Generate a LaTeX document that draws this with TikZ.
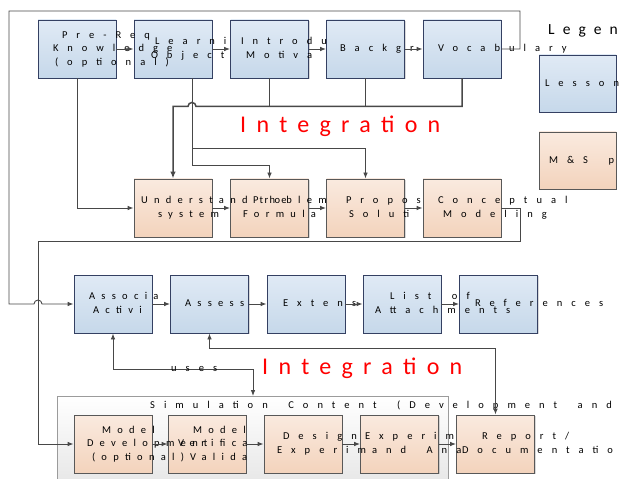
\documentclass[tikz,border=0pt]{standalone}
\usepackage{fontspec}
\setmainfont{Carlito}
\newfontfamily\widefam[LetterSpace=86, WordSpace=1.8]{Carlito}
\newfontfamily\tightfam[LetterSpace=60, WordSpace=1.4]{Carlito}
\newfontfamily\integfam[LetterSpace=43]{Carlito}
\newfontfamily\legendfam[LetterSpace=52]{Carlito}
\usetikzlibrary{arrows.meta, positioning, calc, shadows}

\definecolor{lessontop}{RGB}{224,234,245}
\definecolor{lessonbot}{RGB}{198,216,234}
\definecolor{lessonline}{RGB}{52,64,98}
\definecolor{mstop}{RGB}{250,234,223}
\definecolor{msbot}{RGB}{243,211,188}
\definecolor{msline}{RGB}{88,88,88}
\definecolor{wire}{RGB}{72,72,72}
\definecolor{simline}{RGB}{155,155,155}

\newcommand\wideTxt{\widefam\fontsize{10.5bp}{13.5bp}\selectfont}
\newcommand\tightTxt{\tightfam\fontsize{10.5bp}{13.5bp}\selectfont}
\newcommand\txtline[2]{\makebox[0pt][l]{\hspace*{#1bp}\strut#2}}

\tikzset{
  wtip/.tip={Latex[length=6bp, width=4.6bp]},
  basebox/.style={line width=0.9bp, minimum width=78bp, minimum height=58bp,
    inner sep=0pt, align=center,
    drop shadow={shadow xshift=1.4bp, shadow yshift=-1.4bp, fill=black, opacity=0.15}},
  lessonbox/.style={basebox, draw=lessonline, top color=lessontop, bottom color=lessonbot},
  msbox/.style={basebox, draw=msline, top color=mstop, bottom color=msbot},
  conn/.style={draw=wire, line width=0.9bp, -wtip},
  conn2/.style={draw=wire, line width=0.9bp, wtip-wtip},
  bus/.style={draw=wire, line width=1.5bp},
  integ/.style={text=red, inner sep=0pt, anchor=base west,
    font=\integfam\fontsize{24bp}{28bp}\selectfont},
}

\begin{document}
\begin{tikzpicture}[x=1bp, y=-1bp, font=\wideTxt]
    \useasboundingbox (0,0) rectangle (621,479);

    % simulation content frame
    \fill[top color=white, bottom color=black!9] (57,396) rectangle (448,479);
    \draw[simline, line width=1bp] (57,479) |- (448,396) -- (448,479);
    \node[anchor=base west, inner sep=0pt] (simlbl) at (150,408) {Simulation Content (Development and};
    \coordinate (simtop) at (253,396);

    % lesson row
    \foreach \nm/\cx/\txt in {
        voc/462/{\txtline{-24}{Vocabulary}},
        backgr/365.5/{\txtline{-25.5}{Backgr}},
        intro/269.5/{\txtline{-28.5}{Introdu}\\\txtline{-23.5}{Motiva}},
        learn/173/{\txtline{-18}{Learni}\\\txtline{-22}{Object}},
        preq/77/{\txtline{-15}{Pre-Req}\\\txtline{-24}{Knowledge}\\\txtline{-22}{(optional)}}}
    {
        \node[lessonbox] (\nm) at (\cx,49) {\txt};
    }

    % M&S row
    \foreach \nm/\cx/\fnt/\txt in {
        concept/462/\wideTxt/{\txtline{-24}{Conceptual}\\\txtline{-19}{Modeling}},
        propos/365.5/\wideTxt/{\txtline{-19.5}{Propos}\\\txtline{-16.5}{Soluti}},
        problem/269.5/\tightTxt/{\txtline{-16.5}{Problem}\\\txtline{-26.5}{Formula}},
        underst/173/\tightTxt/{\txtline{-32}{Understand the}\\\txtline{-15}{system}}}
    {
        \node[msbox, font=\fnt] (\nm) at (\cx,208) {\txt};
    }

    % activity row
    \foreach \nm/\cx/\fnt/\txt in {
        refs/498.5/\wideTxt/{\txtline{-23.5}{References}},
        attach/402/\wideTxt/{\txtline{-12}{List of}\\\txtline{-27}{Attachments}},
        exten/306/\wideTxt/{\txtline{-23}{Extens}},
        assess/209.5/\tightTxt/{\txtline{-24.5}{Assess}},
        assoc/113/\tightTxt/{\txtline{-24}{Associa}\\\txtline{-20}{Activi}}}
    {
        \node[lessonbox, font=\fnt] (\nm) at (\cx,304) {\txt};
    }

    % simulation row
    \foreach \nm/\cx/\fnt/\txt in {
        report/495.5/\wideTxt/{\txtline{-13.5}{Report/}\\\txtline{-33.5}{Documentatio}},
        experim/399.5/\wideTxt/{\txtline{-34.5}{Experim}\\\txtline{-27.5}{and Ana}},
        design/303/\wideTxt/{\txtline{-20}{Design}\\\txtline{-26}{Experim}},
        modver/207/\tightTxt/{\txtline{-14}{Model}\\\txtline{-29}{Verifica}\\\txtline{-17}{Valida}},
        moddev/113/\tightTxt/{\txtline{-11}{Model}\\\txtline{-26}{Development}\\\txtline{-21}{(optional)}}}
    {
        \node[msbox, font=\fnt] (\nm) at (\cx,444) {\txt};
    }

    % legend
    \node[anchor=base west, inner sep=0pt, font=\legendfam\fontsize{15.5bp}{18bp}\selectfont]
        (legtitle) at (548,35) {Legen};
    \node[lessonbox, minimum width=77bp, minimum height=57bp] (leglesson) at (577.5,83.5)
        {\txtline{-32.5}{Lesson}};
    \node[msbox, minimum width=77bp, minimum height=57bp] (legms) at (577.5,160.5)
        {\txtline{-28.5}{M\&S p}};

    % flow inside each row
    \foreach \a/\b in {preq/learn, learn/intro, intro/backgr, backgr/voc,
        underst/problem, problem/propos, propos/concept,
        assoc/assess, assess/exten, exten/attach, attach/refs,
        moddev/modver, modver/design, design/experim, experim/report}
        \draw[conn] (\a) -- (\b);

    % lessons down to M&S
    \draw[conn] (preq.south) |- (underst.west);
    \draw[conn] ([xshift=19bp]learn.south) -- ++(0,87) -| (problem.north);
    \draw[conn] ($(learn.south)+(19,70)$) -| (propos.north);
    \draw[bus] (intro.south) -- ++(0,28);
    \draw[bus] (backgr.south) -- ++(0,28);
    \draw[bus, -{Latex[length=7bp, width=5.5bp]}] (voc.south) -- ++(0,28)
        -- ($(learn.south)+(23,28)$) arc(0:-180:4) -- ($(learn.south)+(0,28)$) -- (underst.north);

    % loops back
    \draw[conn] (voc.east) -| (520,11) -| (9,304) -- (34,304) arc(180:360:4) -- (assoc.west);
    \draw[conn] (concept.east) -| (520,241) -| (38,444) -- (moddev.west);

    % links to the simulation part
    \draw[conn2] (assess.south) -- ++(0,15) -| (report.north);
    \draw[conn2] (assoc.south) -- ++(0,36) -| (simtop);
    \node[anchor=west, inner sep=0pt] (useslbl) at (171,369) {uses};

    \node[integ] (integ1) at (240,133) {Integration};
    \node[integ] (integ2) at (262,374) {Integration};
\end{tikzpicture}
\end{document}
